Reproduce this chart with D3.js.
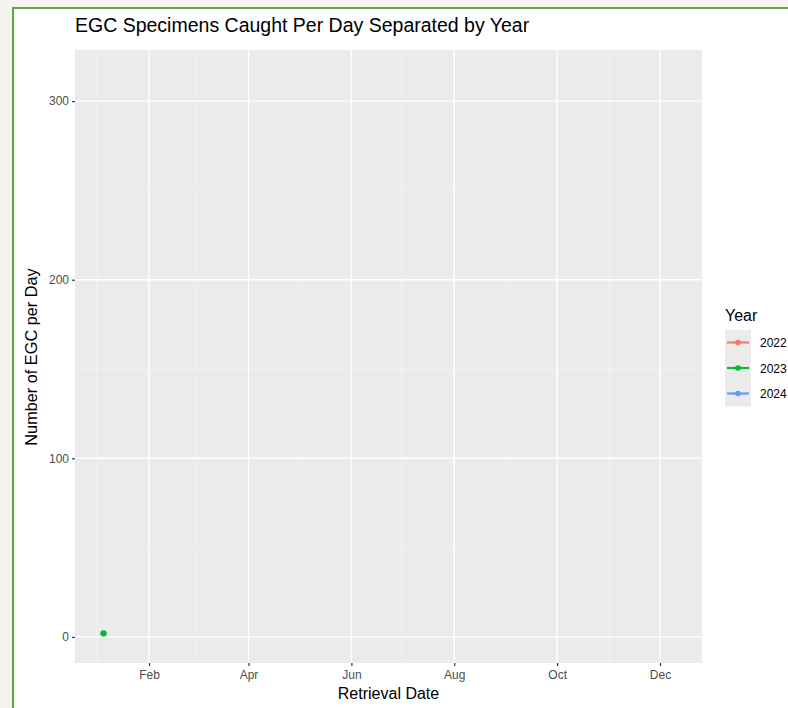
<!DOCTYPE html>
<html>
<head>
<meta charset="utf-8">
<script src="https://cdn.jsdelivr.net/npm/d3@7"></script>
<style>
  html, body { margin: 0; padding: 0; background: #f6f4ef; overflow: hidden; }
  svg { display: block; }
</style>
</head>
<body>
<svg id="chart" width="788" height="708"></svg>
<script>
// Catch records: retrieval date (plotted on a shared calendar year) and count
const years = ["2022", "2023", "2024"];
const yearColors = ["#F8766D", "#00BA38", "#619CFF"];
const catchYear = ["2023"];
const catchDate = ["2023-01-05"];
const catchCount = [2];

// Axis extents and tick labels
const dateRange = ["2023-01-05", "2023-12-09"];
const countRange = [1, 313];
const yTicks = [0, 100, 200, 300];
const yMinor = [50, 150, 250];
const xTickDates = ["2023-02-01", "2023-04-01", "2023-06-01", "2023-08-01", "2023-10-01", "2023-12-01"];
const xTickLabels = ["Feb", "Apr", "Jun", "Aug", "Oct", "Dec"];
const xMinorDates = ["2023-01-01", "2023-03-01", "2023-05-01", "2023-07-01", "2023-09-01", "2023-11-01"];

const parse = d3.utcParse("%Y-%m-%d");
const records = catchDate.map((d, i) => ({ year: catchYear[i], date: parse(d), count: catchCount[i] }));

const svg = d3.select("#chart");
const W = 788, H = 708;
const panel = { left: 75, right: 702, top: 50, bottom: 663 };

// page frame: white sheet with a green rule along the top and left
svg.append("rect").attr("x", 0).attr("y", 0).attr("width", W).attr("height", H).attr("fill", "#f6f4ef");
svg.append("rect").attr("x", 13).attr("y", 8).attr("width", W).attr("height", H).attr("fill", "#ffffff");
svg.append("path").attr("d", `M13,${H} V8 H${W}`)
  .attr("fill", "none").attr("stroke", "#5ca83e").attr("stroke-width", 2);

// ggplot-style 5% expansion
function expand(lo, hi) { const d = (hi - lo) * 0.05; return [lo - d, hi + d]; }
const dr = dateRange.map(parse);
const xd = expand(+dr[0], +dr[1]);
const x = d3.scaleUtc().domain([new Date(xd[0]), new Date(xd[1])]).range([panel.left, panel.right]);
const y = d3.scaleLinear().domain(expand(countRange[0], countRange[1])).range([panel.bottom, panel.top]);

// panel
svg.append("rect").attr("x", panel.left).attr("y", panel.top)
  .attr("width", panel.right - panel.left).attr("height", panel.bottom - panel.top)
  .attr("fill", "#ebebeb");

const grid = svg.append("g");
// minor grid
grid.selectAll(".ymin").data(yMinor).join("line")
  .attr("x1", panel.left).attr("x2", panel.right)
  .attr("y1", d => y(d)).attr("y2", d => y(d))
  .attr("stroke", "#f5f5f5").attr("stroke-width", 0.7);
grid.selectAll(".xmin").data(xMinorDates.map(parse)).join("line")
  .attr("y1", panel.top).attr("y2", panel.bottom)
  .attr("x1", d => x(d)).attr("x2", d => x(d))
  .attr("stroke", "#f5f5f5").attr("stroke-width", 0.7);
// major grid
grid.selectAll(".ymaj").data(yTicks).join("line")
  .attr("x1", panel.left).attr("x2", panel.right)
  .attr("y1", d => y(d)).attr("y2", d => y(d))
  .attr("stroke", "#ffffff").attr("stroke-width", 1.4);
grid.selectAll(".xmaj").data(xTickDates.map(parse)).join("line")
  .attr("y1", panel.top).attr("y2", panel.bottom)
  .attr("x1", d => x(d)).attr("x2", d => x(d))
  .attr("stroke", "#ffffff").attr("stroke-width", 1.4);

// axes
const font = "'Liberation Sans', Arial, sans-serif";
const yAxis = svg.append("g").attr("transform", `translate(${panel.left},0)`)
  .call(d3.axisLeft(y).tickValues(yTicks).tickSize(3).tickPadding(3));
const xAxis = svg.append("g").attr("transform", `translate(0,${panel.bottom})`)
  .call(d3.axisBottom(x).tickValues(xTickDates.map(parse)).tickSize(3).tickPadding(4)
    .tickFormat((d, i) => xTickLabels[i]));
[xAxis, yAxis].forEach(a => {
  a.select(".domain").remove();
  a.selectAll(".tick line").attr("stroke", "#333333").attr("stroke-width", 1.2);
  a.selectAll(".tick text").style("fill", "#4d4d4d").style("font-family", font).style("font-size", "12px");
});

// points
const colorOf = d3.scaleOrdinal().domain(years).range(yearColors);
svg.append("g").selectAll("circle").data(records).join("circle")
  .attr("cx", d => x(d.date)).attr("cy", d => y(d.count)).attr("r", 3.2)
  .attr("fill", d => colorOf(d.year));

// titles
svg.append("text").attr("x", panel.left).attr("y", 32)
  .style("font-family", font).style("font-size", "19.5px").style("fill", "#000")
  .text("EGC Specimens Caught Per Day Separated by Year");
svg.append("text").attr("x", (panel.left + panel.right) / 2).attr("y", 699)
  .attr("text-anchor", "middle").style("font-family", font).style("font-size", "16px")
  .style("fill", "#000").text("Retrieval Date");
svg.append("text").attr("transform", `translate(37,357) rotate(-90)`)
  .attr("text-anchor", "middle").style("font-family", font).style("font-size", "16.3px")
  .style("fill", "#000").text("Number of EGC per Day");

// legend
const lg = svg.append("g").attr("transform", "translate(725,0)");
lg.append("text").attr("x", 0).attr("y", 321)
  .style("font-family", font).style("font-size", "16px").style("fill", "#000").text("Year");
const keys = lg.selectAll(".key").data(years).join("g")
  .attr("transform", (d, i) => `translate(0,${330 + i * 25.5})`);
keys.append("rect").attr("width", 26).attr("height", 25.5).attr("fill", "#ebebeb");
keys.append("line").attr("x1", 2).attr("x2", 24).attr("y1", 12.5).attr("y2", 12.5)
  .attr("stroke", d => colorOf(d)).attr("stroke-width", 2.2);
keys.append("circle").attr("cx", 13).attr("cy", 12.5).attr("r", 2.8).attr("fill", d => colorOf(d));
keys.append("text").attr("x", 35).attr("y", 17)
  .style("font-family", font).style("font-size", "12px").style("fill", "#000").text(d => d);
</script>
</body>
</html>
